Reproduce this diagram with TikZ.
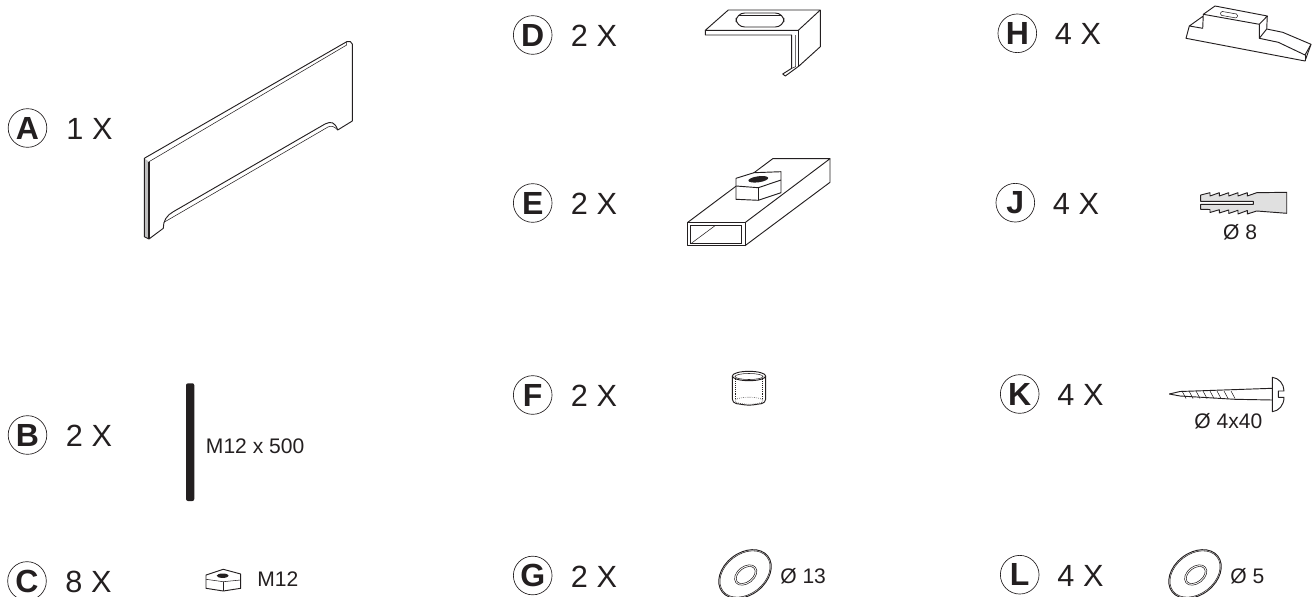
\documentclass[tikz,border=0pt]{standalone}
\usepackage{fontspec}
\setmainfont{Liberation Sans}
\definecolor{inkpart}{HTML}{231F20}
\tikzset{
  partline/.style={draw=inkpart,line width=0.7pt,line join=round},
  thinline/.style={draw=inkpart,line width=0.4pt},
  dotline/.style={draw=inkpart,line width=0.45pt,densely dotted},
  partletter/.style={circle,draw=inkpart,line width=0.5pt,minimum size=29pt,inner sep=0pt,
    text=inkpart,font=\fontsize{24}{24}\selectfont\bfseries},
  partcount/.style={text=inkpart,inner sep=0pt,font=\fontsize{23}{24}\selectfont},
  partnote/.style={text=inkpart,inner sep=0pt,font=\fontsize{15.8}{16}\selectfont}
}
\begin{document}
\begin{tikzpicture}[x=0.75pt,y=-0.75pt]
      \clip (0,0) rectangle (1313,596);
      \foreach \Part/\Num/\Cx/\Cy/\Tx in {A/1/27.5/128/89.5,B/2/27.5/435/89,C/8/27/581/88.5,
        D/2/532.7/35/594,E/2/532.7/203/594,F/2/532.7/395/594,G/2/532.7/575.5/594,
        H/4/1017.3/33.3/1078,J/4/1015.3/202.7/1076,K/4/1019.7/394/1080.5,L/4/1019.7/574.7/1080.5}{
        \node[partletter] (letter\Part) at (\Cx,\Cy) {\Part};
        \node[partcount] (count\Part) at (\Tx,\Cy+1) {\Num\ X};
      }
      % Panel A
      \coordinate (PanelA) at (144.3,158.3);
      \coordinate (PanelB) at (149,161.7);
      \coordinate (PanelC) at (149,239);
      \coordinate (PanelD) at (144.3,236.7);
      \fill[black!25] (PanelA) -- (PanelB) -- (PanelC) -- (PanelD) -- cycle;
      \draw[partline] (PanelA) -- (346.7,41.7) .. controls (349,41) and (352.3,41.5) .. (352.3,44)
        -- (352.3,121) -- (337.7,130) .. controls (335,122) and (331,121) .. (325,124)
        -- (173.3,211.7) .. controls (167,215) and (163,221) .. (163.3,228.3) -- (PanelC) -- (PanelD) -- cycle;
      \draw[line width=1pt,draw=inkpart] (PanelB) -- (PanelC);
      \draw[thinline] (PanelB) -- (346.7,45) -- (346.7,41.7);
      \draw[thinline] (165,221.7) -- (328,127) .. controls (331,125.5) and (334,126) .. (337.7,130);
      % Bracket D
      \draw[partline] (705.3,30.3) -- (728.3,10) -- (820.3,10) -- (798.3,30.3) -- cycle;
      \draw[partline] (705.3,30.3) -- (705.3,35) -- (791.7,35) -- (791.7,68.3) -- (782.7,74) -- (785.3,76)
        -- (799,66) -- (820.3,46.7) -- (820.3,10);
      \draw[partline] (798.3,30.3) -- (798.3,66);
      \draw[thinline] (795.7,35) -- (795.7,66.7) (791.7,68.3) -- (795.7,66.7);
      \draw[partline,rounded corners=6.5] (736,13) rectangle (784,27);
      \draw[thinline,rounded corners=4] (739,15.5) -- (781,15.5);
      % Tube E
      \draw[partline] (687.3,222.7) rectangle (745,245.7);
      \draw[thinline] (690.7,225.7) rectangle (741.7,243);
      \draw[thinline] (691.7,243) -- (715,225.7);
      \draw[partline] (687.3,222.7) -- (772.7,158.7) -- (830,158.7) -- (745,222.7);
      \draw[partline] (830,158.7) -- (830,182.3) -- (745,245.7);
      \draw[partline,fill=white] (736,178.3) -- (754,172.7) -- (781,171.7) -- (781,192.7) -- (758.3,200.3)
        -- (736,199.3) -- cycle;
      \draw[partline] (736,186) -- (758.3,187.7) -- (781,180);
      \draw[partline] (758.3,187.7) -- (758.3,200.3);
      \fill[inkpart,rotate around={8:(758.3,179.3)}] (758.3,179.3) ellipse [x radius=10,y radius=3];
      % Wedge H
      \draw[partline] (1215,6) -- (1267.3,16) -- (1259.3,24.3) -- (1203.3,14.3) -- cycle;
      \draw[partline] (1267.3,16) -- (1266.7,29) -- (1259.3,38.3) -- (1259.3,24.3);
      \draw[partline] (1203.3,14.3) -- (1202.7,28.3) -- (1189.3,26) -- (1203.3,16);
      \draw[partline] (1189.3,26) -- (1186,38.3) -- (1305,61) -- (1311,44.3) -- (1282.7,32.3) -- (1266.7,29);
      \draw[partline] (1259.3,38.3) -- (1278.3,42.3) -- (1305,55) -- (1311,44.3);
      \draw[partline] (1305,55) -- (1305,61);
      \draw[thinline,rounded corners=1,rotate around={-10:(1229,14.7)}] (1220.5,12.7) rectangle (1237.5,16.7);
      % Anchor J
      \draw[partline,fill=black!12] (1200.7,195) -- (1210,192.7) -- (1210,196) -- (1219.3,192.7) -- (1219.3,196)
        -- (1228.7,192.7) -- (1228.7,196) -- (1238,192.7) -- (1238,196) -- (1247.3,192.7) -- (1247.3,196)
        -- (1256.7,192.7) -- (1286.7,192.3) -- (1286.7,213.3) -- (1256.7,211) -- (1247.3,214) -- (1247.3,210.5)
        -- (1238,214) -- (1238,210.3) -- (1228.7,213.5) -- (1228.7,210) -- (1219.3,213) -- (1219.3,209.7)
        -- (1210,212.5) -- (1210,209.5) -- (1200.7,209.3) -- (1200.7,204.3) -- (1253.3,204.3) -- (1253.3,201.3)
        -- (1200.7,201.3) -- cycle;
      \node[partnote] (noteJ) at (1240,232.7) {Ø 8};
      % Rod B
      \fill[inkpart,rounded corners=1.5] (186,383.3) rectangle (194.3,501);
      \node[partnote,anchor=west] (noteB) at (205.7,446) {M12 x 500};
      % Nut C
      \draw[partline] (206,575) -- (223.3,569.3) -- (240.7,574) -- (240.7,588.3) -- (223.3,591) -- (206,588.3) -- cycle;
      \draw[thinline] (206,579.3) -- (223.3,581.7) -- (240.7,580);
      \draw[thinline] (223.3,581.7) -- (223.3,591);
      \fill[inkpart] (222.7,575.7) ellipse [x radius=6,y radius=2.2];
      \node[partnote,anchor=west] (noteC) at (257,579) {M12};
      % Bushing F
      \draw[partline,rounded corners=3] (732.3,376) -- (732.3,403) -- (749,405.5) -- (765.7,403) -- (765.7,376);
      \draw[partline] (749,376) ellipse [x radius=16.7,y radius=4.7];
      \draw[thinline] (749,376.5) ellipse [x radius=14,y radius=3];
      \draw[dotline] (735.7,379) -- (735.7,400) (762.3,379) -- (762.3,400);
      \draw[dotline] (749,400.7) ellipse [x radius=14,y radius=3.5];
      % Screw K
      \draw[partline] (1169.3,394) -- (1180,391.5) -- (1272.3,388.3);
      \draw[partline] (1169.3,394) -- (1180,396) -- (1235,399.3) -- (1272.3,400);
      \foreach \Tx in {1182,1189,1196,1203,1210,1217,1224,1231}{
        \draw[thinline] (\Tx,391) -- (\Tx+4,398.5);
      }
      \draw[partline,fill=white] (1272.3,377.3) .. controls (1279,378) and (1284,384) .. (1284,391)
        -- (1278.3,391) -- (1278.3,397.3) -- (1284,397.3) .. controls (1284,405) and (1279,411) .. (1272.3,411.7) -- cycle;
      \node[partnote] (noteK) at (1228.3,421.7) {Ø 4x40};
      % Washers G and L
      \foreach \Cx in {745,1195}{
        \draw[partline,rotate around={38:(\Cx,574)}] (\Cx,574) ellipse [x radius=29,y radius=21];
        \draw[thinline,rotate around={38:(\Cx,574)}] (\Cx,574) ellipse [x radius=27.8,y radius=19.8];
        \draw[thinline,rotate around={38:(\Cx+0.7,575)}] (\Cx+0.7,575) ellipse [x radius=12.5,y radius=8.5];
        \draw[thinline,rotate around={38:(\Cx+0.7,575)}] (\Cx+0.7,575) ellipse [x radius=10.8,y radius=6.8];
      }
      \node[partnote,anchor=west] (noteG) at (780,576.7) {Ø 13};
      \node[partnote,anchor=west] (noteL) at (1230,576) {Ø 5};
    \end{tikzpicture}
\end{document}
